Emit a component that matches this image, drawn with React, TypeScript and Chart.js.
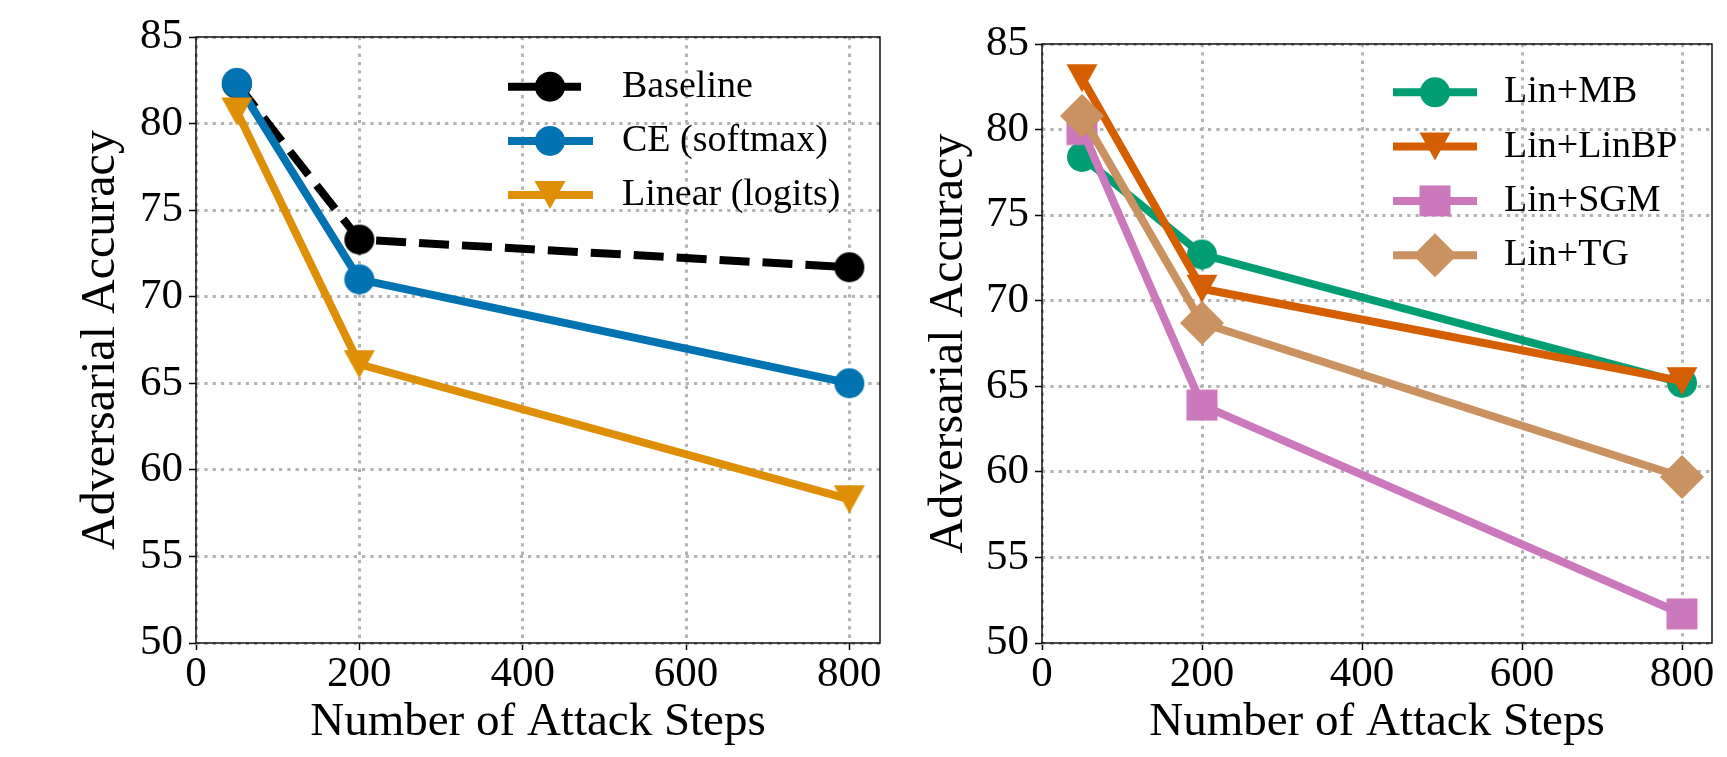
import React, { useEffect, useRef } from "react";
import { Chart, registerables } from "chart.js";

Chart.register(...registerables);

// ---------------- data ----------------
const steps = [50, 200, 800];
const xTickValues = [0, 200, 400, 600, 800];
const yTickValues = [50, 55, 60, 65, 70, 75, 80, 85];
const xMin = 0;
const xMax = 837.5;
const yMin = 50;
const yMax = 85;

const xTitle = "Number of Attack Steps";
const yTitle = "Adversarial Accuracy";

const leftLabels = ["Baseline", "CE (softmax)", "Linear (logits)"];
const baseline = [82.3, 73.3, 71.7];
const ceSoftmax = [82.35, 71.0, 65.0];
const linearLogits = [80.7, 66.1, 58.3];
const leftColors = ["#000000", "#0173B2", "#DE8F05"];
const leftShapes = ["circle", "circle", "triangleDown"];
const leftDashed = [true, false, false];

const rightLabels = ["Lin+MB", "Lin+LinBP", "Lin+SGM", "Lin+TG"];
const linMB = [78.4, 72.7, 65.2];
const linLinBP = [83.0, 70.7, 65.3];
const linSGM = [80.0, 63.9, 51.7];
const linTG = [80.8, 68.7, 59.7];
const rightColors = ["#029E73", "#D55E00", "#CC78BC", "#CA9161"];
const rightShapes = ["circle", "triangleDown", "square", "diamond"];
const rightDashed = [false, false, false, false];

// ---------------- styling ----------------
const FONT = "'Liberation Serif', 'Times New Roman', 'DejaVu Serif', serif";
const LINE_W = 8;
const GRID_COLOR = "#b3b3b3";

function drawMarker(ctx: CanvasRenderingContext2D, shape: string, x: number, y: number, color: string) {
  ctx.save();
  ctx.fillStyle = color;
  ctx.beginPath();
  if (shape === "circle") {
    ctx.arc(x, y, 15, 0, Math.PI * 2);
  } else if (shape === "square") {
    ctx.rect(x - 15.5, y - 15.5, 31, 31);
  } else if (shape === "triangleDown") {
    ctx.moveTo(x - 15.5, y - 14);
    ctx.lineTo(x + 15.5, y - 14);
    ctx.lineTo(x, y + 14);
    ctx.closePath();
  } else if (shape === "diamond") {
    const d = 22;
    ctx.moveTo(x, y - d);
    ctx.lineTo(x + d, y);
    ctx.lineTo(x, y + d);
    ctx.lineTo(x - d, y);
    ctx.closePath();
  }
  ctx.fill();
  ctx.restore();
}

function markerImage(shape: string, color: string) {
  const c = document.createElement("canvas");
  c.width = 50;
  c.height = 50;
  const ctx = c.getContext("2d") as CanvasRenderingContext2D;
  drawMarker(ctx, shape, 25, 25, color);
  return c;
}

function makeDatasets(labels: string[], series: number[][], colors: string[], shapes: string[], dashed: boolean[]) {
  const n = labels.length;
  return labels.map((label, i) => ({
    label,
    data: steps.map((x, k) => ({ x, y: series[i][k] })),
    borderColor: colors[i],
    backgroundColor: colors[i],
    borderWidth: LINE_W,
    borderDash: dashed[i] ? [30, 13] : [],
    borderJoinStyle: "round",
    borderCapStyle: dashed[i] ? "butt" : "square",
    pointStyle: markerImage(shapes[i], colors[i]),
    pointRadius: 15,
    pointHoverRadius: 15,
    pointBorderWidth: 0,
    tension: 0,
    order: n - i,
    clip: false,
    markerShape: shapes[i],
  }));
}

const framePlugin = {
  id: "frame",
  afterDatasetsDraw(chart: any) {
    const { left, top, right, bottom } = chart.chartArea;
    const ctx = chart.ctx;
    ctx.save();
    ctx.strokeStyle = "#000";
    ctx.lineWidth = 1.4;
    ctx.setLineDash([]);
    ctx.strokeRect(left, top, right - left, bottom - top);
    ctx.restore();
  },
};

function makeLegendPlugin(lay: { x0: number; x1: number; mx: number; tx: number; y0: number; dy: number }) {
  return {
    id: "mplLegend",
    afterDraw(chart: any) {
      const ctx = chart.ctx as CanvasRenderingContext2D;
      chart.data.datasets.forEach((ds: any, i: number) => {
        const y = lay.y0 + i * lay.dy;
        ctx.save();
        ctx.strokeStyle = ds.borderColor;
        ctx.lineWidth = ds.borderWidth;
        ctx.lineCap = "butt";
        ctx.setLineDash(ds.borderDash || []);
        ctx.beginPath();
        ctx.moveTo(lay.x0, y);
        ctx.lineTo(lay.x1, y);
        ctx.stroke();
        ctx.setLineDash([]);
        drawMarker(ctx, ds.markerShape, lay.mx, y, ds.backgroundColor);
        ctx.fillStyle = "#000";
        ctx.font = `38px ${FONT}`;
        ctx.textBaseline = "middle";
        ctx.textAlign = "left";
        ctx.fillText(ds.label, lay.tx, y);
        ctx.restore();
      });
    },
  };
}

const gridOpts = {
  color: GRID_COLOR,
  lineWidth: 3,
  tickLength: 7,
  tickColor: "#000",
  tickWidth: 1.5,
  tickBorderDash: [],
};

function buildConfig(datasets: any[], opt: { padTop: number; padRight: number; yWidth: number; yTitlePad: number; legend: any }) {
  return {
    type: "line",
    data: { datasets },
    plugins: [framePlugin, makeLegendPlugin(opt.legend)],
    options: {
      responsive: false,
      animation: false,
      devicePixelRatio: 1,
      events: [],
      layout: { padding: { top: opt.padTop, right: opt.padRight, bottom: 0, left: 0 } },
      plugins: { legend: { display: false }, tooltip: { enabled: false } },
      scales: {
        x: {
          type: "linear",
          min: xMin,
          max: xMax,
          afterBuildTicks: (s: any) => {
            s.ticks = xTickValues.map((v) => ({ value: v }));
          },
          afterFit: (s: any) => {
            s.height = 114;
          },
          ticks: {
            autoSkip: false,
            maxRotation: 0,
            padding: 3,
            color: "#000",
            font: { family: FONT, size: 43, lineHeight: 1 },
          },
          grid: gridOpts,
          border: { display: false, dash: [3.3, 5] },
          title: {
            display: true,
            text: xTitle,
            color: "#000",
            font: { family: FONT, size: 47, lineHeight: 1 },
            padding: { top: 0, bottom: 10.5 },
          },
        },
        y: {
          type: "linear",
          min: yMin,
          max: yMax,
          afterBuildTicks: (s: any) => {
            s.ticks = yTickValues.map((v) => ({ value: v }));
          },
          afterFit: (s: any) => {
            s.width = opt.yWidth;
          },
          ticks: {
            autoSkip: false,
            padding: 6,
            color: "#000",
            font: { family: FONT, size: 43, lineHeight: 1 },
          },
          grid: gridOpts,
          border: { display: false, dash: [3.3, 5] },
          title: {
            display: true,
            text: yTitle,
            color: "#000",
            font: { family: FONT, size: 48, lineHeight: 1 },
            padding: { top: opt.yTitlePad, bottom: 0 },
          },
        },
      },
    },
  };
}

export default function App() {
  const leftRef = useRef<HTMLCanvasElement>(null);
  const rightRef = useRef<HTMLCanvasElement>(null);

  useEffect(() => {
    const leftSets = makeDatasets(leftLabels, [baseline, ceSoftmax, linearLogits], leftColors, leftShapes, leftDashed);
    const rightSets = makeDatasets(rightLabels, [linMB, linLinBP, linSGM, linTG], rightColors, rightShapes, rightDashed);
    const c1 = new Chart(
      leftRef.current as HTMLCanvasElement,
      buildConfig(leftSets, {
        padTop: 37,
        padRight: 20,
        yWidth: 196,
        yTitlePad: 77,
        legend: { x0: 508, x1: 593, mx: 550, tx: 622, y0: 86.7, dy: 54.2 },
      }) as any
    );
    const c2 = new Chart(
      rightRef.current as HTMLCanvasElement,
      buildConfig(rightSets, {
        padTop: 44,
        padRight: 7,
        yWidth: 142,
        yTitlePad: 25,
        legend: { x0: 493, x1: 577, mx: 535, tx: 604, y0: 92.3, dy: 54.3 },
      }) as any
    );
    return () => {
      c1.destroy();
      c2.destroy();
    };
  }, []);

  return (
    <div style={{ position: "absolute", left: 0, top: 0, width: 1727, height: 757, background: "#fff" }}>
      <canvas ref={leftRef} width={900} height={757} style={{ position: "absolute", left: 0, top: 0 }} />
      <canvas ref={rightRef} width={827} height={757} style={{ position: "absolute", left: 900, top: 0 }} />
    </div>
  );
}
